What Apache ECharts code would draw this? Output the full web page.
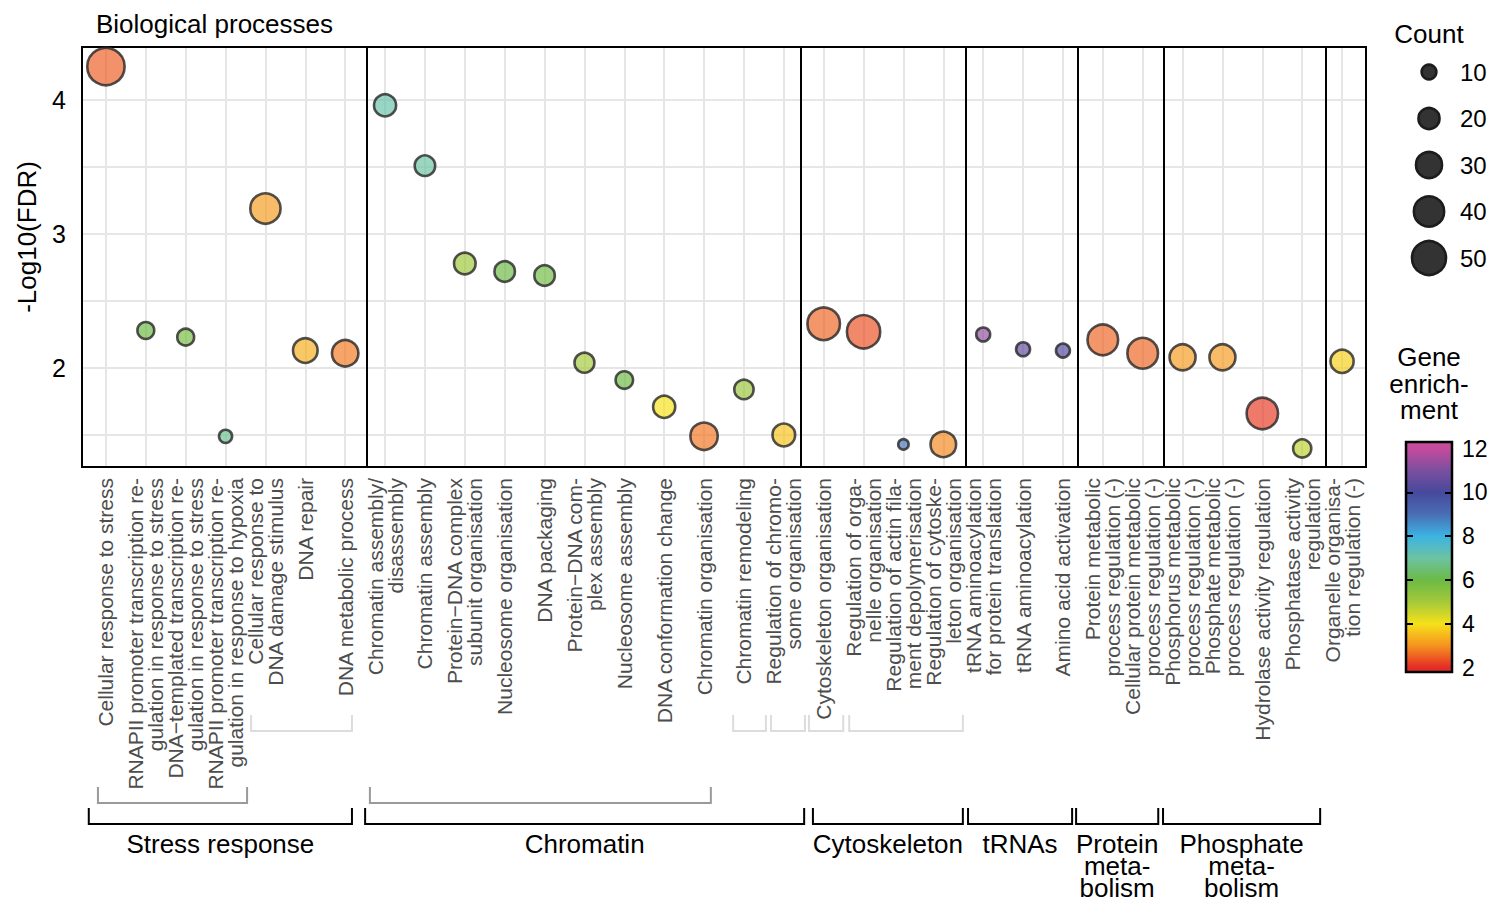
<!DOCTYPE html>
<html>
<head>
<meta charset="utf-8">
<script src="https://cdn.jsdelivr.net/npm/echarts@6/dist/echarts.min.js"></script>
<style>html,body{margin:0;padding:0;background:#fff}#chart{width:1491px;height:901px}</style>
</head>
<body>
<div id="chart"></div>
<script>
// ---------------- data ----------------
const categories = [
  'Cellular response to stress',
  'RNAPII promoter transcription re-\ngulation in response to stress',
  'DNA\u2212templated transcription re-\ngulation in response to stress',
  'RNAPII promoter transcription re-\ngulation in response to hypoxia',
  'Cellular response to\nDNA damage stimulus',
  'DNA repair',
  'DNA metabolic process',
  'Chromatin assembly/\ndisassembly',
  'Chromatin assembly',
  'Protein\u2212DNA complex\nsubunit organisation',
  'Nucleosome organisation',
  'DNA packaging',
  'Protein\u2212DNA com-\nplex assembly',
  'Nucleosome assembly',
  'DNA conformation change',
  'Chromatin organisation',
  'Chromatin remodeling',
  'Regulation of chromo-\nsome organisation',
  'Cytoskeleton organisation',
  'Regulation of orga-\nnelle organisation',
  'Regulation of actin fila-\nment depolymerisation',
  'Regulation of cytoske-\nleton organisation',
  'tRNA aminoacylation\nfor protein translation',
  'tRNA aminoacylation',
  'Amino acid activation',
  'Protein metabolic\nprocess regulation (-)',
  'Cellular protein metabolic\nprocess regulation (-)',
  'Phosphorus metabolic\nprocess regulation (-)',
  'Phosphate metabolic\nprocess regulation (-)',
  'Hydrolase activity regulation',
  'Phosphatase activity\nregulation',
  'Organelle organisa-\ntion regulation (-)'
];
const log10FDR = [
  4.25, 2.28, 2.23, 1.49, 3.19, 2.13, 2.11,
  3.96, 3.51, 2.78, 2.72, 2.69, 2.04, 1.91, 1.71, 1.49, 1.84, 1.50,
  2.33, 2.27, 1.43, 1.43,
  2.25, 2.14, 2.13,
  2.21, 2.11,
  2.08, 2.08, 1.66, 1.40,
  2.05
];
const geneCount = [
  60, 13, 13, 8, 40, 27, 31,
  22, 19, 21, 19, 19, 18, 14, 22, 33, 17, 23,
  46, 48, 5, 29,
  9, 9, 9,
  41, 41,
  30, 30, 43, 15,
  24
];
const geneEnrichment = [
  2.5, 6.0, 5.8, 6.8, 3.1, 3.35, 2.75,
  7.1, 7.0, 5.1, 6.0, 5.9, 5.0, 6.0, 4.0, 2.7, 5.2, 3.6,
  2.55, 2.35, 8.9, 2.9,
  11.3, 10.5, 10.2,
  2.55, 2.55,
  3.1, 3.1, 2.15, 4.7,
  3.75
];
const groupSeparators = [7.55, 18.43, 22.57, 25.38, 27.54, 31.58];
const groupNames = ['Stress response', 'Chromatin', 'Cytoskeleton', 'tRNAs', 'Protein\nmeta-\nbolism', 'Phosphate\nmeta-\nbolism'];
const groupSpans = [[0.57, 7.17], [7.5, 18.51], [18.73, 22.49], [22.62, 25.23], [25.33, 27.39], [27.51, 31.45]];
const subgroupSpansLight = [[4.64, 7.17], [16.73, 17.55], [17.68, 18.53], [18.63, 19.49], [19.64, 22.49]];
const subgroupSpansMid = [[0.8, 4.54], [7.62, 16.17]];
const countLegendValues = [10, 20, 30, 40, 50];
const enrichmentTickLabels = [2, 4, 6, 8, 10, 12];
const enrichmentInnerTicks = [4, 6, 8, 10];
const enrichmentPalette = ['#e52b27', '#f5931f', '#f6e11a', '#a4c93b', '#6cba45', '#6cc3a2',
                           '#3cb3e3', '#4a6eb5', '#47499c', '#7b4f9f', '#c54b9d'];

// ---------------- layout / style ----------------
const FONT = "'Liberation Sans', Arial, Helvetica, sans-serif";
const X_MIN = 0.4, X_MAX = 32.6;
const Y_MIN = 1.2612, Y_MAX = 4.3955;
const CB_MIN = 1.8, CB_MAX = 12.3;
const BORDER = 2.6;
const sizeOf = c => Math.sqrt(40 + 26 * c) - BORDER;
const BRACKET_LEVELS = [
  { top: 248, bottom: 264, color: '#dcdcdc', width: 2 },
  { top: 320, bottom: 336, color: '#9a9a9a', width: 2 },
  { top: 341, bottom: 357, color: '#000000', width: 2 }
];

const mainData = categories.map((c, i) => [i + 1, log10FDR[i], geneCount[i], geneEnrichment[i]]);
const bracketData = [
  ...subgroupSpansLight.map(s => [s[0], s[1], 0, -1]),
  ...subgroupSpansMid.map(s => [s[0], s[1], 1, -1]),
  ...groupSpans.map((s, i) => [s[0], s[1], 2, i])
];

// colour bar gradient (same palette as the visualMap)
const cbStops = [];
cbStops.push({ offset: 0, color: enrichmentPalette[enrichmentPalette.length - 1] });
for (let i = enrichmentPalette.length - 1; i >= 0; i--) {
  const v = 2 + i * (10 / (enrichmentPalette.length - 1));
  cbStops.push({ offset: (CB_MAX - v) / (CB_MAX - CB_MIN), color: enrichmentPalette[i] });
}
cbStops.push({ offset: 1, color: enrichmentPalette[0] });

const chart = echarts.init(document.getElementById('chart'), null, { renderer: 'svg' });

const option = {
  animation: false,
  backgroundColor: '#ffffff',
  textStyle: { fontFamily: FONT },
  title: [
    { text: 'Biological processes', left: 96, top: 11, padding: 0,
      textStyle: { fontSize: 26, fontWeight: 'normal', color: '#000', fontFamily: FONT } },
    { text: 'Count', left: 1429, top: 21, padding: 0, textAlign: 'center',
      textStyle: { fontSize: 26, fontWeight: 'normal', color: '#000', fontFamily: FONT } },
    { text: 'Gene\nenrich-\nment', left: 1429, top: 344, padding: 0, textAlign: 'center',
      textStyle: { fontSize: 26, fontWeight: 'normal', color: '#000', fontFamily: FONT, lineHeight: 26.5 } }
  ],
  grid: [
    { left: 82, top: 47, width: 1284, height: 420, show: true, borderColor: '#000', borderWidth: 2,
      backgroundColor: 'transparent', containLabel: false, z: 3 },
    { left: 1410, top: 48.75, width: 38, height: 232.5, containLabel: false },
    { left: 1406, top: 442, width: 46, height: 230, show: true, borderColor: '#000', borderWidth: 2.5,
      backgroundColor: { type: 'linear', x: 0, y: 0, x2: 0, y2: 1, colorStops: cbStops }, containLabel: false }
  ],
  xAxis: [
    { type: 'value', gridIndex: 0, min: X_MIN, max: X_MAX, minInterval: 1, maxInterval: 1,
      axisLine: { show: false }, axisTick: { show: false },
      splitLine: { show: true, showMinLine: false, showMaxLine: false, lineStyle: { color: '#e6e6e6', width: 2 } },
      axisLabel: { show: true, rotate: 90, margin: 11, fontSize: 21, lineHeight: 20, color: '#4d4d4d',
        fontFamily: FONT,
        formatter: v => (Number.isInteger(v) && v >= 1 && v <= categories.length) ? categories[v - 1] : '' } },
    { type: 'value', gridIndex: 1, min: 0, max: 2, show: false },
    { type: 'value', gridIndex: 2, min: 0, max: 1, show: false }
  ],
  yAxis: [
    { type: 'value', gridIndex: 0, min: Y_MIN, max: Y_MAX, minInterval: 0.5, maxInterval: 0.5,
      name: '-Log10(FDR)', nameLocation: 'middle', nameGap: 42,
      nameTextStyle: { fontSize: 26, color: '#000', fontFamily: FONT, padding: [0, 0, 0, 40] },
      axisLine: { show: false }, axisTick: { show: false },
      splitLine: { show: true, showMinLine: false, showMaxLine: false, lineStyle: { color: '#e6e6e6', width: 2 } },
      axisLabel: { margin: 16, fontSize: 25, color: '#000', fontFamily: FONT, showMinLabel: false, showMaxLabel: false,
        formatter: v => Number.isInteger(v) ? String(v) : '' } },
    { type: 'category', gridIndex: 1, inverse: true, position: 'right',
      data: countLegendValues.map(String),
      axisLine: { show: false }, axisTick: { show: false }, splitLine: { show: false },
      axisLabel: { margin: 12, fontSize: 24, color: '#000', fontFamily: FONT } },
    { type: 'value', gridIndex: 2, min: CB_MIN, max: CB_MAX, position: 'left',
      axisLine: { show: false }, splitLine: { show: false },
      axisTick: { show: true, inside: true, length: 7, lineStyle: { color: '#000', width: 2 }, customValues: enrichmentInnerTicks },
      axisLabel: { show: false } },
    { type: 'value', gridIndex: 2, min: CB_MIN, max: CB_MAX, position: 'right',
      axisLine: { show: false }, splitLine: { show: false },
      axisTick: { show: true, inside: true, length: 7, lineStyle: { color: '#000', width: 2 }, customValues: enrichmentInnerTicks },
      axisLabel: { show: true, margin: 10, fontSize: 23, color: '#000', fontFamily: FONT, customValues: enrichmentTickLabels } }
  ],
  visualMap: [
    { type: 'continuous', show: false, seriesIndex: 0, dimension: 3, min: 2, max: 12,
      inRange: { color: enrichmentPalette, colorAlpha: 0.85 } }
  ],
  series: [
    { type: 'scatter', xAxisIndex: 0, yAxisIndex: 0, data: mainData, z: 4,
      symbolSize: d => sizeOf(d[2]),
      itemStyle: { borderColor: '#262626', borderWidth: BORDER },
      markLine: { silent: true, symbol: 'none', label: { show: false }, z: 3,
        lineStyle: { color: '#000', width: 2, type: 'solid' },
        emphasis: { disabled: true },
        data: groupSeparators.map(v => ({ xAxis: v })) } },
    { type: 'scatter', xAxisIndex: 1, yAxisIndex: 1,
      data: countLegendValues.map((v, i) => [1, i, v]),
      symbolSize: d => sizeOf(d[2]),
      itemStyle: { color: '#333333', borderColor: '#1c1c1c', borderWidth: BORDER, opacity: 1 } },
    { type: 'custom', xAxisIndex: 0, yAxisIndex: 0, clip: false, silent: true, z: 5,
      data: bracketData,
      renderItem: (params, api) => {
        const p1 = api.coord([api.value(0), Y_MIN]);
        const p2 = api.coord([api.value(1), Y_MIN]);
        const lv = api.value(2);
        const st = BRACKET_LEVELS[lv];
        const y0 = p1[1] + st.top, y1 = p1[1] + st.bottom;
        const children = [{
          type: 'polyline',
          shape: { points: [[p1[0], y0], [p1[0], y1], [p2[0], y1], [p2[0], y0]] },
          style: { stroke: st.color, lineWidth: st.width, fill: 'none' }
        }];
        if (lv === 2) {
          children.push({
            type: 'text',
            style: { text: groupNames[api.value(3)], x: (p1[0] + p2[0]) / 2, y: p1[1] + 366,
              align: 'center', verticalAlign: 'top', fontSize: 26, lineHeight: 22,
              fontFamily: FONT, fill: '#000' }
          });
        }
        return { type: 'group', children };
      } }
  ]
};
chart.setOption(option);
</script>
</body>
</html>
